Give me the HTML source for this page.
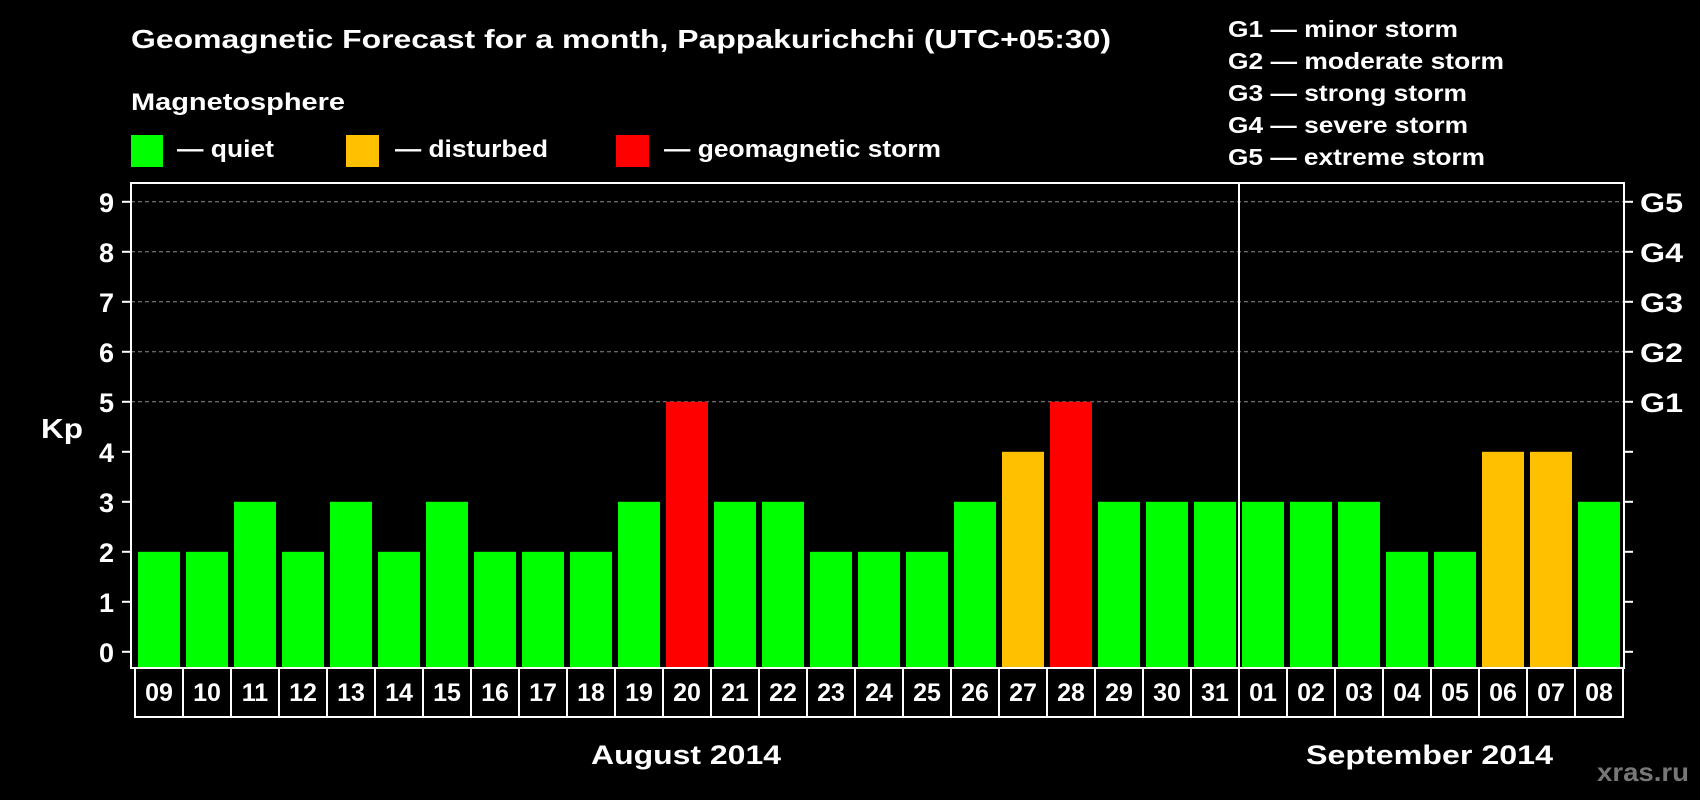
<!DOCTYPE html>
<html><head><meta charset="utf-8"><style>
html,body{margin:0;padding:0;background:#000;width:1700px;height:800px;overflow:hidden}
text{font-family:"Liberation Sans",Arial,sans-serif;font-weight:bold;fill:#fff}
</style></head><body>
<svg id="chart" width="1700" height="800" viewBox="0 0 1700 800" xmlns="http://www.w3.org/2000/svg">
<rect width="1700" height="800" fill="#000"/>
<text x="131" y="48" font-size="26" textLength="980" lengthAdjust="spacingAndGlyphs">Geomagnetic Forecast for a month, Pappakurichchi (UTC+05:30)</text>
<text x="131" y="110" font-size="24" textLength="214" lengthAdjust="spacingAndGlyphs">Magnetosphere</text>
<rect x="131" y="135" width="32" height="32" fill="#00ff00"/>
<text x="177" y="157" font-size="24" textLength="97" lengthAdjust="spacingAndGlyphs">— quiet</text>
<rect x="346" y="135" width="33" height="32" fill="#ffc000"/>
<text x="395" y="157" font-size="24" textLength="153" lengthAdjust="spacingAndGlyphs">— disturbed</text>
<rect x="616" y="135" width="33" height="32" fill="#ff0000"/>
<text x="664" y="157" font-size="24" textLength="277" lengthAdjust="spacingAndGlyphs">— geomagnetic storm</text>
<g>
<text x="1228" y="37" font-size="23" textLength="230" lengthAdjust="spacingAndGlyphs">G1 — minor storm</text>
<text x="1228" y="69" font-size="23" textLength="276" lengthAdjust="spacingAndGlyphs">G2 — moderate storm</text>
<text x="1228" y="101" font-size="23" textLength="239" lengthAdjust="spacingAndGlyphs">G3 — strong storm</text>
<text x="1228" y="133" font-size="23" textLength="240" lengthAdjust="spacingAndGlyphs">G4 — severe storm</text>
<text x="1228" y="165" font-size="23" textLength="257" lengthAdjust="spacingAndGlyphs">G5 — extreme storm</text>
</g>
<text x="41" y="438" font-size="28" textLength="42" lengthAdjust="spacingAndGlyphs">Kp</text>
<g id="grid"></g><g id="bars"></g><g id="axes"></g>
<text x="591" y="764" font-size="27" textLength="190" lengthAdjust="spacingAndGlyphs">August 2014</text>
<text x="1306" y="764" font-size="27" textLength="247" lengthAdjust="spacingAndGlyphs">September 2014</text>
<text x="1597" y="781" font-size="26" textLength="92" lengthAdjust="spacingAndGlyphs" style="fill:#777">xras.ru</text>
</svg>
<script>
const days = ["09","10","11","12","13","14","15","16","17","18","19","20","21","22","23","24","25","26","27","28","29","30","31","01","02","03","04","05","06","07","08"];
const kpValues = [2,2,3,2,3,2,3,2,2,2,3,5,3,3,2,2,2,3,4,5,3,3,3,3,3,3,2,2,4,4,3];
const yTicks = [0,1,2,3,4,5,6,7,8,9];
const gLabels = ["G1","G2","G3","G4","G5"];
const monthBreakIndex = 23;

const NS = "http://www.w3.org/2000/svg";
const plotL = 131, plotR = 1624, plotT = 183, plotB = 668;
const slotL = 135, slotW = 48;
function y(v){ return 651.8 - v * 50; }
function x(i){ return slotL + i * slotW; }
function mk(parent, tag, attrs){ const e = document.createElementNS(NS, tag); for (const k in attrs) e.setAttribute(k, attrs[k]); parent.appendChild(e); return e; }
function color(v){ return v >= 5 ? "#ff0000" : (v >= 4 ? "#ffc000" : "#00ff00"); }

const grid = document.getElementById("grid"), bars = document.getElementById("bars"), axes = document.getElementById("axes");
for (let v = 5; v <= 9; v++) {
  const l = mk(grid, "line", {x1: plotL, x2: plotR, y1: y(v), y2: y(v), stroke: "#8a8a8a", "stroke-width": 1, "stroke-dasharray": "4,3"});
  
  
}
kpValues.forEach((v, i) => {
  const r = mk(bars, "rect", {x: x(i) + 3, y: y(v), width: 42, height: plotB - y(v), fill: color(v)});
  
  
});
const frame = mk(axes, "rect", {x: plotL, y: plotT, width: plotR - plotL, height: plotB - plotT, fill: "none", stroke: "#fff", "stroke-width": 2});


const div = mk(axes, "line", {x1: x(monthBreakIndex), x2: x(monthBreakIndex), y1: plotT, y2: plotB, stroke: "#fff", "stroke-width": 2});


yTicks.forEach(v => {
  const t = mk(axes, "line", {x1: plotL - 9, x2: plotL, y1: y(v), y2: y(v), stroke: "#fff", "stroke-width": 2});
  
  
  const t2 = mk(axes, "line", {x1: plotR, x2: plotR + 9, y1: y(v), y2: y(v), stroke: "#fff", "stroke-width": 2});
  
  
  const lb = mk(axes, "text", {x: 114, y: y(v) + 10, "font-size": 27, "text-anchor": "end"});
  lb.textContent = String(v);
  
  
});
gLabels.forEach((g, i) => {
  const lb = mk(axes, "text", {x: 1640, y: y(5 + i) + 10, "font-size": 27, textLength: 43, lengthAdjust: "spacingAndGlyphs"});
  lb.textContent = g;
  
  
});
const box = mk(axes, "rect", {x: slotL, y: plotB, width: slotW * days.length, height: 49, fill: "#000", stroke: "#fff", "stroke-width": 2});


days.forEach((d, i) => {
  if (i > 0) {
    const sep = mk(axes, "line", {x1: x(i), x2: x(i), y1: plotB, y2: plotB + 49, stroke: "#fff", "stroke-width": 2});
    
    
  }
  const t = mk(axes, "text", {x: x(i) + slotW / 2, y: plotB + 33, "font-size": 25, "text-anchor": "middle"});
  t.textContent = d;
  
  
});
</script>
</body></html>
